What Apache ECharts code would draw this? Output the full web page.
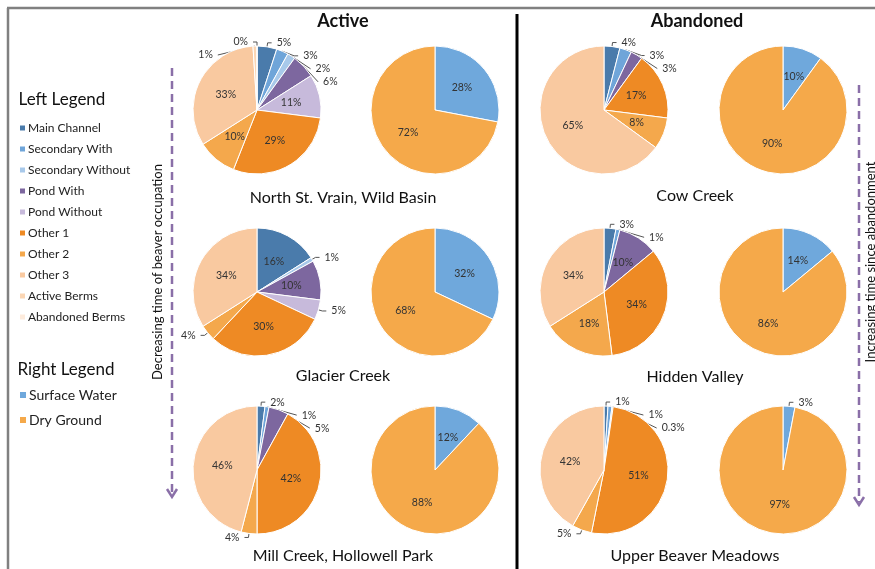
<!DOCTYPE html>
<html>
<head>
<meta charset="utf-8">
<script src="https://cdn.jsdelivr.net/npm/echarts@6/dist/echarts.min.js"></script>
<style>
html, body { margin: 0; padding: 0; background: #fff; }
#main { width: 875px; height: 569px; }
</style>
</head>
<body>
<div id="main"></div>
<script>
// categories
var leftNames = ['Main Channel', 'Secondary With', 'Secondary Without', 'Pond With', 'Pond Without',
                 'Other 1', 'Other 2', 'Other 3', 'Active Berms', 'Abandoned Berms'];
var rightNames = ['Surface Water', 'Dry Ground'];
var activeSites = ['North St. Vrain, Wild Basin', 'Glacier Creek', 'Mill Creek, Hollowell Park'];
var abandonedSites = ['Cow Creek', 'Hidden Valley', 'Upper Beaver Meadows'];

// left pies (% of area, null = class not present)
var northStVrain = [5, 3, 2, 6, 11, 29, 10, 33, 1, 0];
var glacierCreek = [16, null, 1, 10, 5, 30, 4, 34, null, null];
var millCreek    = [2, 1, null, 5, null, 42, 4, 46, null, null];
var cowCreek     = [4, 3, null, 3, null, 17, 8, 65, null, null];
var hiddenValley = [3, 1, null, 10, null, 34, 18, 34, null, null];
var upperBeaver  = [1, 1, 0.3, null, null, 51, 5, 42, null, null];

// right pies
var surfaceWater = [28, 32, 12, 10, 14, 3];
var dryGround    = [72, 68, 88, 90, 86, 97];

var leftColors = ['#4a7bab', '#6fa5d9', '#a8c9ea', '#7d679f', '#c7badb',
                  '#ee8a24', '#f4a84c', '#f9c9a0', '#fbd6b4', '#fdebdc'];
var rightColors = ['#6fa8dc', '#f5a94a'];

var FONT = 'Lato, "Open Sans", sans-serif';
var R = 64;

function slices(values, names, colors) {
    var out = [];
    values.forEach(function (v, i) {
        if (v == null) return;
        out.push({
            name: names[i],
            value: v,
            itemStyle: {color: colors[i]},
            label: {position: v >= 8 ? 'inside' : 'outside'}
        });
    });
    return out;
}

function pie(data, cx, cy) {
    return {
        type: 'pie',
        radius: R,
        center: [cx, cy],
        startAngle: 90,
        clockwise: true,
        animation: false,
        data: data,
        label: {formatter: '{c}%', fontSize: 10.5, color: '#333', fontFamily: FONT},
        labelLine: {length: 4, length2: 4, lineStyle: {color: '#555', width: 1}},
        itemStyle: {borderColor: '#fff', borderWidth: 1}
    };
}

var leftSets = [northStVrain, glacierCreek, millCreek, cowCreek, hiddenValley, upperBeaver];
var pieX = [257, 435, 604, 783];
var pieY = [110, 292, 470];

var series = [];
leftSets.forEach(function (vals, k) {
    var col = k < 3 ? 0 : 2;
    var row = k % 3;
    series.push(pie(slices(vals, leftNames, leftColors), pieX[col], pieY[row]));
    series.push(pie(slices([surfaceWater[k], dryGround[k]], rightNames, rightColors), pieX[col + 1], pieY[row]));
});

function txt(s, x, y, size, weight, extra) {
    var o = {
        type: 'text', x: x, y: y, silent: true,
        style: {text: s, fill: '#111', font: (weight || 'normal') + ' ' + size + 'px ' + FONT,
                textAlign: 'center', textVerticalAlign: 'middle'}
    };
    if (extra) for (var k in extra) o[k] = extra[k];
    return o;
}

var dash = {stroke: '#8a6fa8', lineWidth: 2.5, lineDash: [8, 5]};
var graphics = [
    {type: 'line', shape: {x1: 7, y1: 8, x2: 875, y2: 8}, style: {stroke: '#808080', lineWidth: 2.5}},
    {type: 'line', shape: {x1: 8, y1: 8, x2: 8, y2: 569}, style: {stroke: '#808080', lineWidth: 2.5}},
    {type: 'line', shape: {x1: 517, y1: 14, x2: 517, y2: 569}, style: {stroke: '#000', lineWidth: 3}},
    {type: 'line', shape: {x1: 172, y1: 68, x2: 172, y2: 494}, style: dash},
    {type: 'polyline', shape: {points: [[167, 489], [172, 497], [177, 489]]}, style: {stroke: '#8a6fa8', lineWidth: 2.5, fill: null}},
    {type: 'line', shape: {x1: 859, y1: 85, x2: 859, y2: 502}, style: dash},
    {type: 'polyline', shape: {points: [[854, 497], [859, 505], [864, 497]]}, style: {stroke: '#8a6fa8', lineWidth: 2.5, fill: null}},
    txt('Decreasing time of beaver occupation', 158, 272, 13, 'normal', {rotation: Math.PI / 2}),
    txt('Increasing time since abandonment', 871, 262, 13, 'normal', {rotation: Math.PI / 2}),
    txt('Active', 343, 21, 18, 'bold'),
    txt('Abandoned', 697, 21, 18, 'bold'),
    txt('Left Legend', 62, 100, 17),
    txt('Right Legend', 66, 370, 17)
];
activeSites.forEach(function (s, i) { graphics.push(txt(s, 343, [198, 376, 556][i], 16)); });
abandonedSites.forEach(function (s, i) { graphics.push(txt(s, 695, [196, 377, 556][i], 16)); });

var option = {
    backgroundColor: '#fff',
    animation: false,
    legend: [
        {
            data: leftNames,
            orient: 'vertical',
            left: 13, top: 116,
            icon: 'rect', itemWidth: 7, itemHeight: 7, itemGap: 7,
            selectedMode: false,
            textStyle: {fontSize: 12, color: '#222', fontFamily: FONT, lineHeight: 14, padding: [0, 0, 0, -3]}
        },
        {
            data: rightNames,
            orient: 'vertical',
            left: 13, top: 382,
            icon: 'rect', itemWidth: 8, itemHeight: 8, itemGap: 9,
            selectedMode: false,
            textStyle: {fontSize: 14, color: '#222', fontFamily: FONT, lineHeight: 16, padding: [0, 0, 0, -3]}
        }
    ],
    graphic: graphics,
    series: series
};

var myChart = echarts.init(document.getElementById('main'));
myChart.setOption(option);
</script>
</body>
</html>
